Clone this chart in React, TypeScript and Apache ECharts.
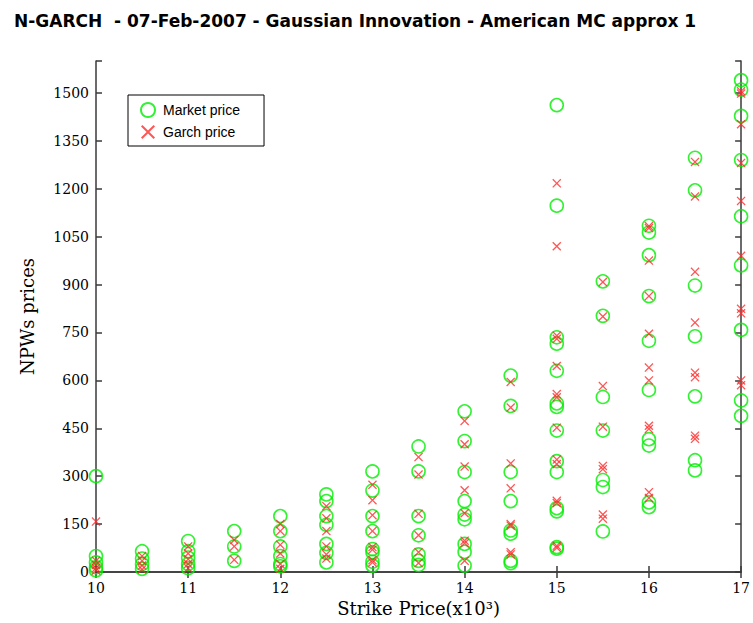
import React, { useEffect, useRef } from "react";
import * as echarts from "echarts";

const strikes = [10, 10.5, 11, 11.5, 12, 12.5, 13, 13.5, 14, 14.5, 15, 15.5, 16, 16.5, 17];

const marketPrices = [
  [300, 50, 30, 15, 5],
  [65, 42, 25, 10],
  [97, 65, 45, 25, 12],
  [128, 80, 35],
  [175, 128, 80, 50, 25, 18],
  [243, 222, 175, 148, 88, 60, 30],
  [315, 255, 175, 128, 72, 62, 32, 20],
  [393, 315, 175, 115, 55, 35, 22],
  [503, 410, 313, 222, 180, 165, 88, 63, 20],
  [615, 520, 313, 222, 130, 120, 35, 28],
  [1462, 1147, 735, 715, 630, 528, 517, 443, 347, 313, 200, 190, 78, 73],
  [910, 802, 548, 443, 288, 266, 127],
  [1084, 1063, 992, 864, 724, 570, 416, 396, 218, 203],
  [1297, 1195, 897, 738, 550, 350, 318],
  [1540, 1510, 1428, 1290, 1114, 960, 758, 537, 489],
];

const garchPrices = [
  [158, 35, 22, 12, 5],
  [50, 35, 20, 8],
  [80, 58, 40, 25, 12],
  [100, 80, 38],
  [150, 128, 85, 58, 25, 10],
  [206, 168, 128, 80, 55, 42],
  [273, 225, 178, 128, 78, 70, 37, 30],
  [360, 305, 182, 115, 62, 28],
  [473, 400, 330, 256, 184, 98, 90, 35],
  [595, 515, 340, 262, 150, 145, 62, 55],
  [1217, 1020, 740, 730, 645, 557, 547, 452, 352, 338, 223, 216, 82, 76],
  [908, 800, 582, 455, 332, 322, 180, 167],
  [1083, 1077, 975, 864, 746, 640, 600, 458, 448, 250, 232],
  [1284, 1176, 940, 781, 624, 610, 427, 417],
  [1505, 1498, 1402, 1281, 1162, 990, 824, 810, 600, 585],
];

const yTickStep = 150;
const yMax = 1600;

const titleText = "N-GARCH  - 07-Feb-2007 - Gaussian Innovation - American MC approx 1";

function toPairs(groups: number[][]) {
  const out: number[][] = [];
  groups.forEach((vals, i) => vals.forEach((v) => out.push([strikes[i], v])));
  return out;
}

const crossPath =
  "path://M0,0.1 L0.1,0 L0.5,0.4 L0.9,0 L1,0.1 L0.6,0.5 L1,0.9 L0.9,1 L0.5,0.6 L0.1,1 L0,0.9 L0.4,0.5 Z";

export default function App() {
  const ref = useRef<HTMLDivElement>(null);
  useEffect(() => {
    const chart = echarts.init(ref.current!, null, { renderer: "svg" });
    const axisColor = "#3a3a3a";
    const serif = "DejaVu Serif";
    const common = {
      axisLine: { show: true, lineStyle: { color: axisColor, width: 1.5 } },
      axisTick: { show: true, inside: true, length: 6, lineStyle: { color: axisColor, width: 1.5 } },
      splitLine: { show: false },
    };
    chart.setOption({
      animation: false,
      backgroundColor: "#ffffff",
      title: {
        text: titleText,
        left: 9,
        top: 7,
        textStyle: { fontFamily: "DejaVu Sans", fontWeight: "bold", fontSize: 17, color: "#000" },
      },
      grid: { left: 96, right: 4, top: 61, bottom: 51, containLabel: false },
      legend: {
        orient: "vertical",
        left: 128,
        top: 95,
        padding: [7, 24, 7, 12],
        itemGap: 7,
        itemWidth: 20,
        itemHeight: 14,
        backgroundColor: "#fff",
        borderColor: "#000",
        borderWidth: 1,
        borderRadius: 0,
        textStyle: { fontFamily: "Liberation Sans", fontSize: 14, color: "#000" },
        data: ["Market price", "Garch price"],
      },
      xAxis: [
        {
          ...common,
          type: "value",
          min: 10,
          max: 17,
          interval: 1,
          position: "bottom",
          name: "Strike Price(x10³)",
          nameLocation: "middle",
          nameGap: 27,
          nameTextStyle: { fontFamily: serif, fontSize: 18, color: "#000" },
          axisLabel: { show: true, margin: 9, fontFamily: serif, fontSize: 14, color: "#000" },
        },
        {
          ...common,
          type: "value",
          min: 10,
          max: 17,
          interval: 1,
          position: "top",
          axisLabel: { show: false },
        },
      ],
      yAxis: [
        {
          ...common,
          type: "value",
          min: 0,
          max: yMax,
          interval: yTickStep,
          position: "left",
          name: "NPWs prices",
          nameLocation: "middle",
          nameGap: 60,
          nameTextStyle: { fontFamily: serif, fontSize: 18, color: "#000" },
          axisLabel: {
            show: true,
            margin: 7,
            fontFamily: serif,
            fontSize: 14,
            color: "#000",
            formatter: (v: number) => (v % yTickStep === 0 && v <= 1500 ? String(v) : ""),
          },
        },
        {
          ...common,
          type: "value",
          min: 0,
          max: yMax,
          interval: yTickStep,
          position: "right",
          axisLabel: { show: false },
        },
      ],
      series: [
        {
          name: "Market price",
          type: "scatter",
          xAxisIndex: 0,
          yAxisIndex: 0,
          clip: false,
          symbol: "circle",
          symbolSize: 13,
          itemStyle: { color: "rgba(0,0,0,0)", borderColor: "#00ee00", borderWidth: 1.6 },
          data: toPairs(marketPrices),
        },
        {
          name: "Garch price",
          type: "scatter",
          xAxisIndex: 0,
          yAxisIndex: 0,
          clip: false,
          symbol: crossPath,
          symbolSize: 9,
          itemStyle: { color: "#ff2a2a" },
          data: toPairs(garchPrices),
        },
      ],
    });
    return () => chart.dispose();
  }, []);
  return (
    <div
      ref={ref}
      style={{ position: "fixed", left: 0, top: 0, width: 753, height: 623 }}
    />
  );
}
